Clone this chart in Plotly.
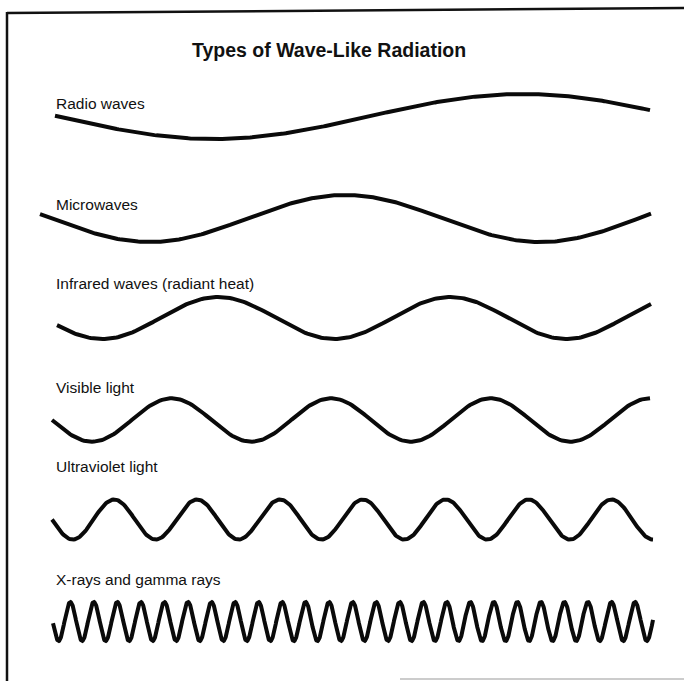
import numpy as np
import plotly.graph_objects as go

# ---- data ----
title_text = "Types of Wave-Like Radiation"
labels = [
    "Radio waves",
    "Microwaves",
    "Infrared waves (radiant heat)",
    "Visible light",
    "Ultraviolet light",
    "X-rays and gamma rays",
]
cycles = [0.96, 1.563, 2.56, 3.75, 7.25, 25.5]      # number of wave cycles drawn
phase_deg = [-2, -11, 20, 0, 0, 5]                  # phase at the left end
amplitude = [22.5, 23.5, 21, 21.7, 20, 19.5]        # half height of each wave

# ---- layout (page coordinates) ----
W, H = 684, 681
wave_x0 = [55, 40, 57, 52, 52, 53]
wave_x1 = [650, 651, 651, 650, 653, 653]
wave_mid = [116.5, 218.5, 318, 420, 519.5, 621.5]
label_y = [103, 204, 283, 387, 466, 579]
label_x = 54
font_family = "Liberation Sans, Arial, Helvetica, sans-serif"

fig = go.Figure()
for i in range(len(labels)):
    n = int(max(300, cycles[i] * 80))
    t = np.linspace(0, 1, n)
    phi = np.deg2rad(phase_deg[i]) + 2 * np.pi * cycles[i] * t
    x = wave_x0[i] + (wave_x1[i] - wave_x0[i]) * t
    y = wave_mid[i] + amplitude[i] * np.sin(phi)
    fig.add_trace(go.Scatter(
        x=x, y=y, mode="lines",
        line=dict(color="#0a0a0a", width=4),
        hoverinfo="skip", showlegend=False, name=labels[i],
    ))
    fig.add_annotation(
        x=label_x, y=label_y[i], text=labels[i], showarrow=False,
        xanchor="left", yanchor="middle",
        font=dict(family=font_family, size=15.5, color="#111111"),
    )

fig.add_annotation(
    x=329, y=50, text="<b>" + title_text + "</b>", showarrow=False,
    xanchor="center", yanchor="middle",
    font=dict(family=font_family, size=19.5, color="#111111"),
)

# frame lines of the scanned figure
fig.add_shape(type="line", x0=7, y0=13, x1=684, y1=8,
              line=dict(color="#111111", width=2.5))
fig.add_shape(type="line", x0=7, y0=12, x1=7, y1=681,
              line=dict(color="#111111", width=2.5))
fig.add_shape(type="line", x0=400, y0=679, x1=684, y1=679,
              line=dict(color="#bbbbbb", width=1.5))

fig.update_layout(
    width=W, height=H,
    margin=dict(l=0, r=0, t=0, b=0),
    paper_bgcolor="white", plot_bgcolor="white",
    xaxis=dict(range=[0, W], visible=False, fixedrange=True),
    yaxis=dict(range=[H, 0], visible=False, fixedrange=True),
    showlegend=False,
)

fig.write_html(
    "out.html",
    config={"displayModeBar": False},
    post_script="document.body.style.margin='0';document.body.style.overflow='hidden';",
)
